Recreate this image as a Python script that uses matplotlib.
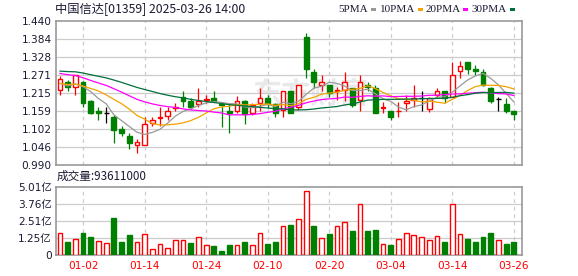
import matplotlib
matplotlib.use("Agg")
import matplotlib.pyplot as plt
from matplotlib.patches import Rectangle
import numpy as np
import pandas as pd

# ---------------- data ----------------
dates = ["12-27", "12-30", "12-31",
         "01-02", "01-03", "01-06", "01-07", "01-08", "01-09", "01-10", "01-13", "01-14",
         "01-15", "01-16", "01-17", "01-20", "01-21", "01-22", "01-23", "01-24", "01-27",
         "01-28", "02-03", "02-04", "02-05", "02-06", "02-07", "02-10", "02-11", "02-12",
         "02-13", "02-14", "02-17", "02-18", "02-19", "02-20", "02-21", "02-24", "02-25",
         "02-26", "02-27", "02-28", "03-03", "03-04", "03-05", "03-06", "03-07", "03-10",
         "03-11", "03-12", "03-13", "03-14", "03-17", "03-18", "03-19", "03-20", "03-21",
         "03-24", "03-25", "03-26"]

opens = [1.224, 1.250, 1.234, 1.250, 1.1925, 1.160, 1.152, 1.142, 1.1025, 1.0816,
         1.053, 1.0525, 1.121, 1.139, 1.144, 1.169, 1.2035, 1.192, 1.1816, 1.1956,
         1.200, 1.181, 1.159, 1.161, 1.191, 1.1525, 1.184, 1.200, 1.181, 1.163,
         1.221, 1.173, 1.390, 1.2816, 1.242, 1.240, 1.222, 1.226, 1.232, 1.194,
         1.240, 1.232, 1.169, 1.159, 1.159, 1.184, 1.194, 1.200, 1.166, 1.211,
         1.221, 1.204, 1.284, 1.313, 1.292, 1.281, 1.232, 1.196, 1.181, 1.159]
highs = [1.269, 1.257, 1.273, 1.252, 1.195, 1.172, 1.172, 1.147, 1.113, 1.092,
         1.071, 1.142, 1.140, 1.173, 1.173, 1.185, 1.222, 1.199, 1.232, 1.211,
         1.221, 1.185, 1.184, 1.207, 1.194, 1.184, 1.232, 1.211, 1.184, 1.222,
         1.222, 1.240, 1.4025, 1.292, 1.271, 1.240, 1.236, 1.282, 1.232, 1.271,
         1.250, 1.240, 1.188, 1.160, 1.188, 1.209, 1.240, 1.223, 1.203, 1.232,
         1.221, 1.313, 1.315, 1.313, 1.303, 1.291, 1.236, 1.204, 1.200, 1.159]
lows = [1.210, 1.223, 1.211, 1.172, 1.150, 1.131, 1.121, 1.061, 1.082, 1.041,
        1.029, 1.0525, 1.112, 1.112, 1.133, 1.160, 1.173, 1.166, 1.173, 1.186,
        1.188, 1.111, 1.092, 1.152, 1.119, 1.146, 1.161, 1.169, 1.142, 1.141,
        1.152, 1.163, 1.263, 1.232, 1.223, 1.2025, 1.194, 1.192, 1.173, 1.161,
        1.223, 1.152, 1.152, 1.132, 1.142, 1.160, 1.173, 1.161, 1.157, 1.204,
        1.184, 1.204, 1.263, 1.275, 1.273, 1.238, 1.184, 1.161, 1.152, 1.133]
closes = [1.260, 1.234, 1.271, 1.184, 1.152, 1.152, 1.152, 1.100, 1.092, 1.061,
          1.062, 1.118, 1.131, 1.140, 1.159, 1.171, 1.191, 1.172, 1.1925, 1.198,
          1.192, 1.178, 1.152, 1.190, 1.150, 1.179, 1.200, 1.184, 1.153, 1.221,
          1.1525, 1.240, 1.292, 1.250, 1.250, 1.215, 1.224, 1.250, 1.180, 1.250,
          1.234, 1.1525, 1.171, 1.142, 1.161, 1.192, 1.200, 1.200, 1.200, 1.221,
          1.200, 1.271, 1.299, 1.292, 1.284, 1.241, 1.192, 1.196, 1.161, 1.150]
# closes of the 29 sessions before the window (estimated so the moving averages start where drawn)
prior_closes = [1.28, 1.29, 1.30, 1.31, 1.30, 1.30, 1.30, 1.31, 1.30, 1.30,
                1.31, 1.32, 1.33, 1.32, 1.31, 1.30, 1.31, 1.30, 1.29, 1.29,
                1.27, 1.26, 1.24, 1.23, 1.23, 1.274, 1.24, 1.226, 1.23]
# volume in 亿 shares
volumes = [1.59, 0.95, 1.15, 1.61, 1.32, 1.00, 0.86, 2.71, 0.95, 1.47,
           0.93, 1.52, 0.42, 0.78, 0.49, 1.08, 1.08, 0.88, 1.30, 0.71,
           0.66, 0.29, 0.73, 0.71, 0.95, 0.71, 1.59, 0.81, 0.95, 2.10,
           2.20, 2.62, 4.67, 2.13, 1.22, 1.54, 2.10, 2.40, 1.76, 3.74,
           1.76, 1.83, 0.78, 0.71, 1.15, 1.59, 1.44, 1.30, 1.10, 1.37,
           0.95, 3.74, 1.54, 1.17, 0.95, 1.32, 1.61, 1.08, 0.81, 0.93611]

price_ticks = [0.990, 1.046, 1.102, 1.159, 1.215, 1.271, 1.328, 1.384, 1.440]
vol_ticks = [0, 1.2525, 2.505, 3.7575, 5.01]
vol_tick_labels = ["0", "1.25亿", "2.51亿", "3.76亿", "5.01亿"]
date_ticks = ["01-02", "01-14", "01-24", "02-10", "02-20", "03-04", "03-14", "03-26"]
ma_periods = [5, 10, 20, 30]
ma_names = ["5PMA", "10PMA", "20PMA", "30PMA"]
title = "中国信达[01359] 2025-03-26 14:00"

# ---------------- styling ----------------
RED = "#ff0000"
GREEN = "#008000"
BLACK = "#000000"
ma_colors = ["#999999", "#f5a200", "#ff00ff", "#006f3c"]
GRID = "#cccccc"
SPINE = "#999999"
TXT = "#1a1a33"

W, H = 578, 276
fig = plt.figure(figsize=(W / 100, H / 100), dpi=100)


def fx(x):
    return x / W


def fy(y):
    return 1 - y / H


ax = fig.add_axes([fx(56), fy(165.3), (522.3 - 56) / W, 144 / H])
axv = fig.add_axes([fx(56), fy(255), (522.3 - 56) / W, 68.3 / H])

n = len(closes)
xs = np.arange(n)
xlim = (-0.52, 60.1)

# moving averages
all_closes = pd.Series(prior_closes + closes)
for p, col in zip(ma_periods, ma_colors):
    ma = all_closes.rolling(p).mean().values[-n:]
    ax.plot(xs, ma, color=col, lw=0.9, zorder=4)

# candles
bw = 0.62
for i in range(n):
    o, h, l, c = opens[i], highs[i], lows[i], closes[i]
    if c > o:
        col = RED
    elif c < o:
        col = GREEN
    else:
        col = BLACK
    bottom = min(o, c)
    top = max(o, c)
    ax.vlines(i, l, bottom, color=col, lw=0.9, zorder=2)
    ax.vlines(i, top, h, color=col, lw=0.9, zorder=2)
    if c > o:
        ax.bar(i, top - bottom, bw, bottom=bottom, facecolor="white", edgecolor=col, lw=1.0, zorder=3)
    elif c < o:
        ax.bar(i, top - bottom, bw, bottom=bottom, facecolor=col, edgecolor=col, lw=1.0, zorder=3)
    else:
        ax.hlines(c, i - bw / 2, i + bw / 2, color=col, lw=1.0, zorder=3)

# volume bars (red when close >= previous close)
for i in range(n):
    up = True if i == 0 else closes[i] >= closes[i - 1]
    if up:
        axv.bar(i, volumes[i], bw, facecolor="white", edgecolor=RED, lw=1.0, zorder=3)
    else:
        axv.bar(i, volumes[i], bw, facecolor=GREEN, edgecolor=GREEN, lw=1.0, zorder=3)

tick_idx = [dates.index(d) for d in date_ticks]

for a in (ax, axv):
    a.set_xlim(*xlim)
    for s in a.spines.values():
        s.set_color(SPINE)
        s.set_linewidth(1.2)
    for t in tick_idx:
        a.axvline(t, color=GRID, lw=0.9, ls=(0, (3, 3)), zorder=1)
    a.tick_params(length=0, pad=3)

ax.set_ylim(price_ticks[0], price_ticks[-1])
ax.set_yticks(price_ticks)
ax.set_yticklabels([f"{v:.3f}" for v in price_ticks], fontsize=7.6, color=TXT)
for v in price_ticks[1:-1]:
    ax.axhline(v, color=GRID, lw=0.9, zorder=1)
ax.set_xticks([])

axv.set_ylim(0, vol_ticks[-1])
axv.set_yticks(vol_ticks)
axv.set_yticklabels(vol_tick_labels, fontsize=7.6, color=TXT,
                    family=["DejaVu Sans", "Noto Sans CJK SC"])
for v in vol_ticks[1:-1]:
    axv.axhline(v, color=GRID, lw=0.9, zorder=1)
axv.set_xticks(tick_idx)
axv.set_xticklabels(date_ticks, fontsize=7.6, color=RED)
axv.tick_params(axis="x", pad=4)

# watermark
ax.text(0.545, 0.5, "东方财富", transform=ax.transAxes, fontsize=21, color="#e9e9e9",
        family=["Noto Sans CJK SC"], fontweight="bold", ha="center", va="center", zorder=0)

# title and volume label
fig.text(fx(55), fy(9), title, fontsize=8.8, color=TXT, va="center", ha="left",
         family=["Noto Sans CJK SC", "DejaVu Sans"])
fig.text(fx(57), fy(176), "成交量:" + str(int(round(volumes[-1] * 1e8))), fontsize=8.4,
         color=TXT, va="center", ha="left", family=["Noto Sans CJK SC", "DejaVu Sans"])

# legend
leg_x = [338.7, 380, 425.3, 472]
for name, col, lx in zip(ma_names, ma_colors, leg_x):
    t = fig.text(fx(lx), fy(9), name, fontsize=8, color=TXT, va="center", ha="left",
                 family=["Liberation Serif"])
    fig.canvas.draw()
    bb = t.get_window_extent()
    x1 = bb.x1 + 3
    fig.patches.append(Rectangle((x1 / W, fy(10.5)), 5 / W, 2.5 / H, transform=fig.transFigure,
                                 facecolor=col, edgecolor="none"))

fig.savefig("out.png", dpi=100)
